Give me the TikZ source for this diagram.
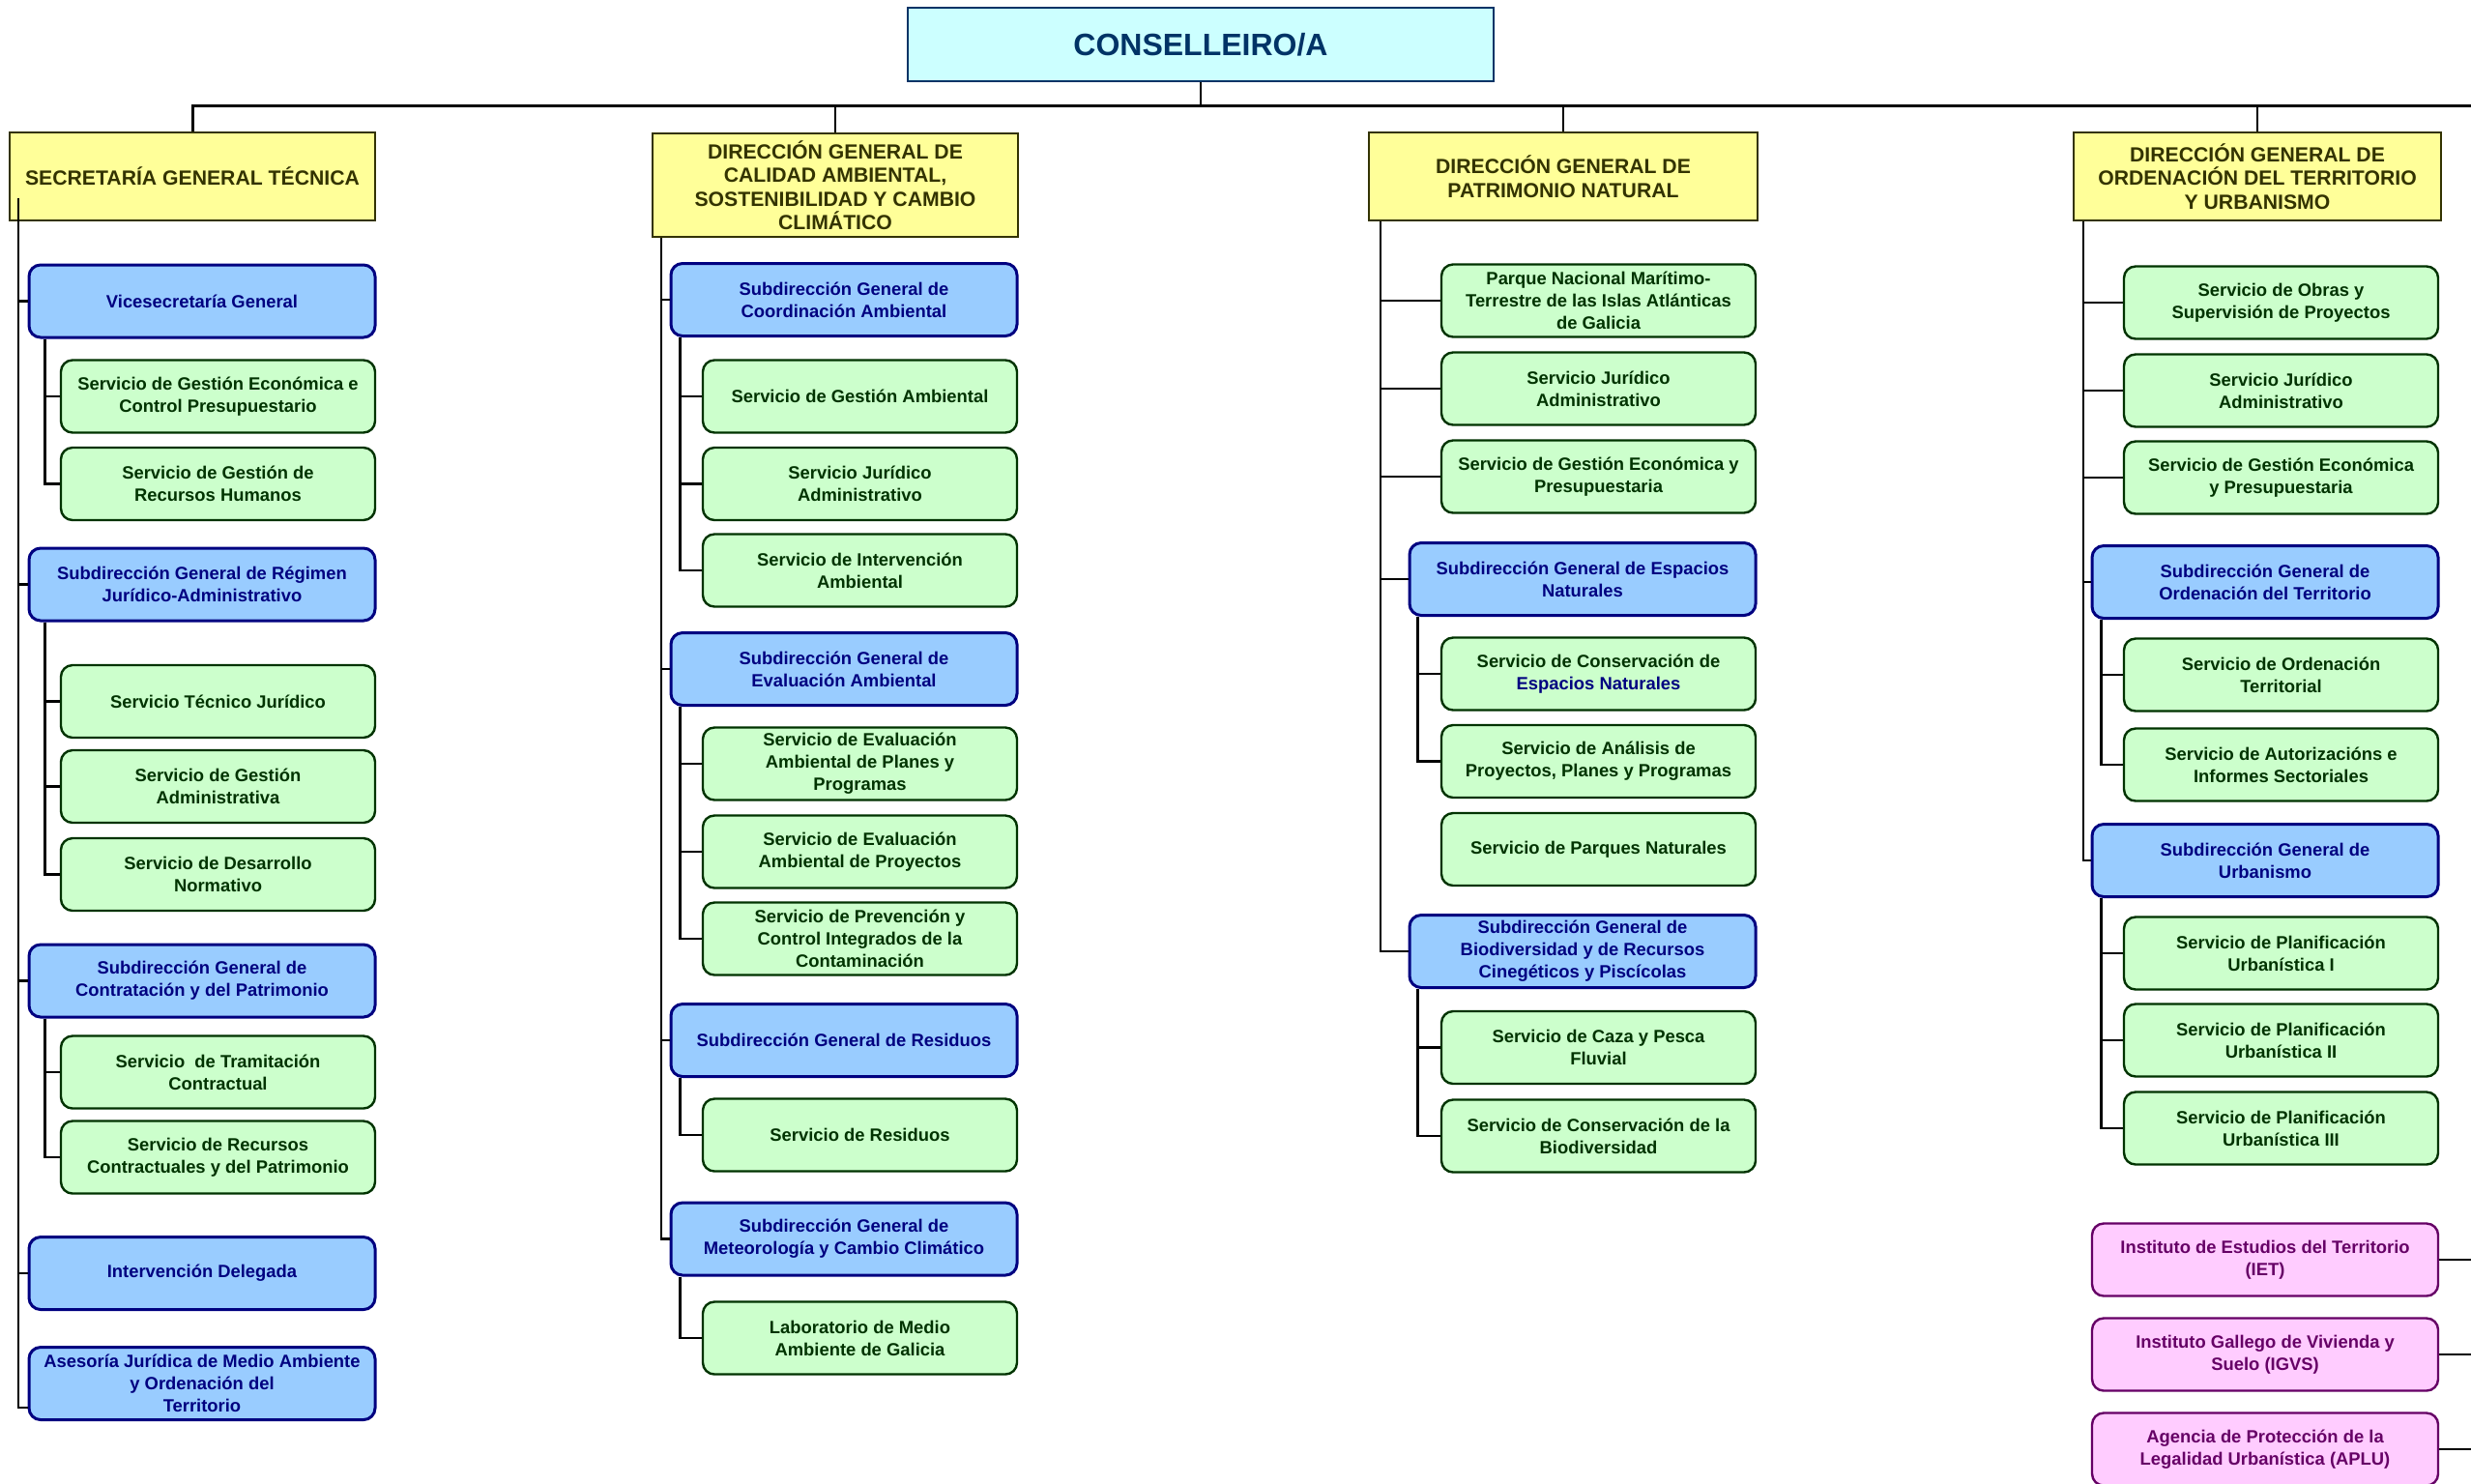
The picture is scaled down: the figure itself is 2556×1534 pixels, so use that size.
\documentclass[tikz,border=0pt]{standalone}
\usepackage{fontspec}
\setmainfont{Liberation Sans}
\definecolor{yfill}{HTML}{FFFF99}
\definecolor{ydraw}{HTML}{333300}
\definecolor{bfill}{HTML}{99CCFF}
\definecolor{bdraw}{HTML}{000080}
\definecolor{gfill}{HTML}{CCFFCC}
\definecolor{gdraw}{HTML}{003300}
\definecolor{pfill}{HTML}{FFCCFF}
\definecolor{pdraw}{HTML}{660066}
\definecolor{cfill}{HTML}{CCFFFF}
\definecolor{cdraw}{HTML}{003366}
\tikzset{
  basebox/.style={draw, align=center, inner sep=0pt, minimum height=18.75pt,
    font=\bfseries\fontsize{4.6pt}{5.75pt}\selectfont, rounded corners=3pt},
  greenbox/.style={basebox, fill=gfill, draw=gdraw, text=gdraw, line width=0.6pt, minimum width=81.25pt},
  bluebox/.style={basebox, fill=bfill, draw=bdraw, text=bdraw, line width=0.75pt, minimum width=89.5pt},
  pinkbox/.style={basebox, fill=pfill, draw=pdraw, text=pdraw, line width=0.6pt, minimum width=89.5pt},
  yellowbox/.style={draw=ydraw, fill=yfill, text=ydraw, line width=0.6pt, align=center, inner sep=0pt,
    font=\bfseries\fontsize{5.3pt}{6.1pt}\selectfont},
  topbox/.style={draw=cdraw, fill=cfill, text=cdraw, line width=0.6pt, align=center, inner sep=0pt,
    font=\bfseries\fontsize{8pt}{9.6pt}\selectfont, minimum width=151.5pt, minimum height=19pt},
  conn/.style={line width=0.55pt, black},
  busline/.style={line width=0.75pt, black}
}
\begin{document}
\begin{tikzpicture}[x=0.25pt, y=-0.25pt]
\useasboundingbox (0,0) rectangle (2556,1534);
\clip (0,0) rectangle (2556,1534);
\fill[white] (0,0) rectangle (2556,1534);

% top
\node[topbox] (cons) at (1242,46) {CONSELLEIRO/A};
\coordinate (busR) at (2556,109);

% yellow
\node[yellowbox, minimum width=94.5pt, minimum height=22.75pt] (sgt) at (199,182.5) {SECRETARÍA GENERAL TÉCNICA};
\node[yellowbox, minimum width=94.5pt, minimum height=26.75pt] (dgcal) at (864,191.5) {DIRECCIÓN GENERAL DE\\CALIDAD AMBIENTAL,\\SOSTENIBILIDAD Y CAMBIO\\CLIMÁTICO};
\node[yellowbox, minimum width=100.5pt, minimum height=22.75pt] (dgpat) at (1617,182.5) {DIRECCIÓN GENERAL DE\\PATRIMONIO NATURAL};
\node[yellowbox, minimum width=95pt, minimum height=22.75pt] (dgord) at (2335,182.5) {DIRECCIÓN GENERAL DE\\ORDENACIÓN DEL TERRITORIO\\Y URBANISMO};

% column 1
\node[bluebox] (vice) at (209,311.5) {Vicesecretaría General};
\node[greenbox] (sge1) at (225.5,410) {Servicio de Gestión Económica e\\Control Presupuestario};
\node[greenbox] (rrhh) at (225.5,500.5) {Servicio de Gestión de\\Recursos Humanos};
\node[bluebox] (regimen) at (209,604.5) {Subdirección General de Régimen\\Jurídico-Administrativo};
\node[greenbox] (tecnico) at (225.5,725.5) {Servicio Técnico Jurídico};
\node[greenbox] (gadmin) at (225.5,813.5) {Servicio de Gestión\\Administrativa};
\node[greenbox] (desnorm) at (225.5,904.5) {Servicio de Desarrollo\\Normativo};
\node[bluebox] (contrat) at (209,1014.5) {Subdirección General de\\Contratación y del Patrimonio};
\node[greenbox] (tramit) at (225.5,1109) {Servicio\ \ de Tramitación\\Contractual};
\node[greenbox] (recursos) at (225.5,1197) {Servicio de Recursos\\Contractuales y del Patrimonio};
\node[bluebox] (interv) at (209,1317) {Intervención Delegada};
\node[bluebox] (asesoria) at (209,1431) {Asesoría Jurídica de Medio Ambiente\\y Ordenación del\\Territorio};

% column 2
\node[bluebox] (coord) at (873,310) {Subdirección General de\\Coordinación Ambiental};
\node[greenbox] (gamb) at (889.5,410) {Servicio de Gestión Ambiental};
\node[greenbox] (jur2) at (889.5,500.5) {Servicio Jurídico\\Administrativo};
\node[greenbox] (intamb) at (889.5,590) {Servicio de Intervención\\Ambiental};
\node[bluebox] (evalua) at (873,692) {Subdirección General de\\Evaluación Ambiental};
\node[greenbox] (evplan) at (889.5,790) {Servicio de Evaluación\\Ambiental de Planes y\\Programas};
\node[greenbox] (evproy) at (889.5,881) {Servicio de Evaluación\\Ambiental de Proyectos};
\node[greenbox] (prev) at (889.5,971) {Servicio de Prevención y\\Control Integrados de la\\Contaminación};
\node[bluebox] (resid) at (873,1076) {Subdirección General de Residuos};
\node[greenbox] (servresid) at (889.5,1174) {Servicio de Residuos};
\node[bluebox] (meteo) at (873,1281.5) {Subdirección General de\\Meteorología y Cambio Climático};
\node[greenbox] (lab) at (889.5,1384) {Laboratorio de Medio\\Ambiente de Galicia};

% column 3
\node[greenbox] (parque) at (1653.5,311) {Parque Nacional Marítimo-\\Terrestre de las Islas Atlánticas\\de Galicia};
\node[greenbox] (jur3) at (1653.5,402) {Servicio Jurídico\\Administrativo};
\node[greenbox] (gec3) at (1653.5,493) {Servicio de Gestión Económica y\\Presupuestaria};
\node[bluebox] (espnat) at (1637,599) {Subdirección General de Espacios\\Naturales};
\node[greenbox] (consesp) at (1653.5,697) {Servicio de Conservación de\\\textcolor{bdraw}{Espacios Naturales}};
\node[greenbox] (analisis) at (1653.5,787.5) {Servicio de Análisis de\\Proyectos, Planes y Programas};
\node[greenbox] (parques) at (1653.5,878.5) {Servicio de Parques Naturales};
\node[bluebox] (biodiv) at (1637,984) {Subdirección General de\\Biodiversidad y de Recursos\\Cinegéticos y Piscícolas};
\node[greenbox] (caza) at (1653.5,1083.5) {Servicio de Caza y Pesca\\Fluvial};
\node[greenbox] (consbio) at (1653.5,1175) {Servicio de Conservación de la\\Biodiversidad};

% column 4
\node[greenbox] (obras) at (2359.5,313) {Servicio de Obras y\\Supervisión de Proyectos};
\node[greenbox] (jur4) at (2359.5,404) {Servicio Jurídico\\Administrativo};
\node[greenbox] (gec4) at (2359.5,494) {Servicio de Gestión Económica\\y Presupuestaria};
\node[bluebox] (ordter) at (2343,602) {Subdirección General de\\Ordenación del Territorio};
\node[greenbox] (servord) at (2359.5,698) {Servicio de Ordenación\\Territorial};
\node[greenbox] (autoriz) at (2359.5,791) {Servicio de Autorizacións e\\Informes Sectoriales};
\node[bluebox] (urban) at (2343,890) {Subdirección General de\\Urbanismo};
\node[greenbox] (plan1) at (2359.5,986) {Servicio de Planificación\\Urbanística I};
\node[greenbox] (plan2) at (2359.5,1076) {Servicio de Planificación\\Urbanística II};
\node[greenbox] (plan3) at (2359.5,1167) {Servicio de Planificación\\Urbanística III};
\node[pinkbox] (iet) at (2343,1303) {Instituto de Estudios del Territorio\\(IET)};
\node[pinkbox] (igvs) at (2343,1401) {Instituto Gallego de Vivienda y\\Suelo (IGVS)};
\node[pinkbox] (aplu) at (2343,1499) {Agencia de Protección de la\\Legalidad Urbanística (APLU)};

% bus
\draw[conn] (cons.south) -- (cons.south |- busR);
\draw[busline] (sgt.north) |- (busR);
\foreach \n in {dgcal,dgpat,dgord} \draw[conn] (\n.north) -- (\n.north |- busR);

% column 1 connectors
\coordinate (t1) at ([xshift=2.5pt,yshift=6pt]sgt.south west);
\draw[conn] (t1) |- ([yshift=-6.25pt]asesoria.west);
\foreach \n in {vice,regimen,contrat,interv} \draw[conn] (t1) |- (\n.west);
\foreach \n in {sge1,rrhh} \draw[conn] ([xshift=4.5pt]vice.south west) |- (\n.west);
\foreach \n in {tecnico,gadmin,desnorm} \draw[conn] ([xshift=4.5pt]regimen.south west) |- (\n.west);
\foreach \n in {tramit,recursos} \draw[conn] ([xshift=4.5pt]contrat.south west) |- (\n.west);

% column 2 connectors
\foreach \n in {coord,evalua,resid,meteo} \draw[conn] ([xshift=2.5pt]dgcal.south west) |- (\n.west);
\foreach \n in {gamb,jur2,intamb} \draw[conn] ([xshift=2.75pt]coord.south west) |- (\n.west);
\foreach \n in {evplan,evproy,prev} \draw[conn] ([xshift=2.75pt]evalua.south west) |- (\n.west);
\draw[conn] ([xshift=2.75pt]resid.south west) |- (servresid.west);
\draw[conn] ([xshift=2.75pt]meteo.south west) |- (lab.west);

% column 3 connectors
\foreach \n in {parque,jur3,gec3,espnat,biodiv} \draw[conn] ([xshift=3.25pt]dgpat.south west) |- (\n.west);
\foreach \n in {consesp,analisis} \draw[conn] ([xshift=2.5pt]espnat.south west) |- (\n.west);
\foreach \n in {caza,consbio} \draw[conn] ([xshift=2.5pt]biodiv.south west) |- (\n.west);

% column 4 connectors
\foreach \n in {obras,jur4,gec4,ordter,urban} \draw[conn] ([xshift=2.75pt]dgord.south west) |- (\n.west);
\foreach \n in {servord,autoriz} \draw[conn] ([xshift=2.75pt]ordter.south west) |- (\n.west);
\foreach \n in {plan1,plan2,plan3} \draw[conn] ([xshift=2.75pt]urban.south west) |- (\n.west);
\foreach \n in {iet,igvs,aplu} \draw[conn] (\n.east) -- (\n.east -| busR);
\end{tikzpicture}
\end{document}
